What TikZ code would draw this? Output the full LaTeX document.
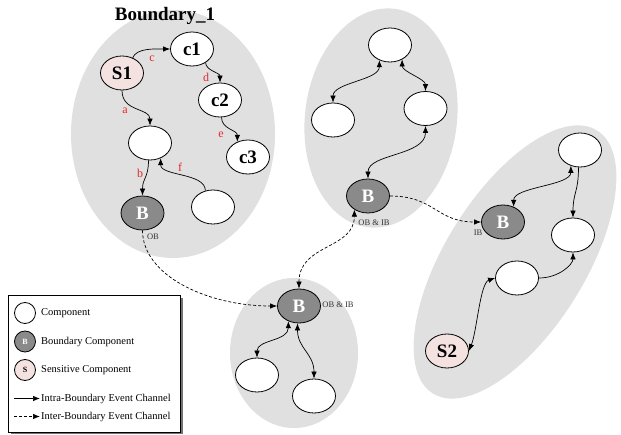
\documentclass[tikz,border=0pt]{standalone}
\usepackage{fontspec}
\setmainfont{Liberation Serif}
\usetikzlibrary{shapes.geometric,arrows.meta}
\definecolor{bndfill}{HTML}{E0E0E0}
\definecolor{bcompfill}{HTML}{8A8A8A}
\definecolor{sensfill}{HTML}{F3E2DF}
\definecolor{lblred}{HTML}{E8262A}
\definecolor{tagtext}{HTML}{333333}
\begin{document}
\begin{tikzpicture}[x=1pt,y=-1pt,
  comp/.style={ellipse,draw,line width=0.8pt,fill=white,minimum width=43pt,minimum height=34pt,inner sep=0pt,font=\fontsize{19}{19}\selectfont\bfseries},
  bcomp/.style={comp,fill=bcompfill,text=white},
  scomp/.style={comp,fill=sensfill},
  bound/.style={fill=bndfill,draw=none},
  ch/.style={line width=0.7pt,-{Latex[length=7pt,width=5.5pt]}},
  bich/.style={line width=0.7pt,{Latex[length=7pt,width=5.5pt]}-{Latex[length=7pt,width=5.5pt]}},
  xch/.style={ch,dash pattern=on 3pt off 2pt},
  bixch/.style={bich,dash pattern=on 3pt off 2pt},
  elbl/.style={text=lblred,font=\fontsize{12}{12}\selectfont,inner sep=0pt},
  tag/.style={text=tagtext,font=\fontsize{8.5}{8.5}\selectfont,inner sep=0pt},
  lgtext/.style={font=\fontsize{10.5}{10.5}\selectfont,anchor=west,inner sep=0pt},
  lgcirc/.style={circle,draw,line width=0.8pt,minimum size=21pt,inner sep=0pt,font=\fontsize{8}{8}\selectfont\bfseries}
]
\useasboundingbox (0,0) rectangle (621,435);
\fill[white] (0,0) rectangle (621,435);

% boundaries
\fill[bound] (173,134) ellipse [x radius=102pt, y radius=124pt];
\fill[bound] (381,118) ellipse [x radius=76pt, y radius=110pt, rotate=-7];
\fill[bound] (515,262) ellipse [x radius=155pt, y radius=70pt, rotate=58];
\fill[bound] (294,353) ellipse [x radius=64pt, y radius=75pt];

\node[font=\fontsize{19}{19}\selectfont\bfseries] (title) at (165,16) {Boundary\_1};

% boundary 1
\node[scomp] (s1) at (122,73) {S1};
\node[comp] (c1) at (192,49) {c1};
\node[comp] (c2) at (220,100) {c2};
\node[comp] (c3) at (248,157) {c3};
\node[comp] (m1) at (150,143) {};
\node[comp] (r1) at (213,207) {};
\node[bcomp] (b1) at (142.5,213) {B};
\node[tag] (ob1) at (153,237) {OB};

\draw[ch] (s1.55) .. controls +(4,-10) and +(-15,0) .. (c1.west);
\draw[ch] (c1.-45) .. controls +(0,8) and +(0,-10) .. (c2.north);
\draw[ch] (s1.south) .. controls +(0,22) and +(0,-18) .. (m1.north);
\draw[ch] (c2.-85) .. controls +(0,12) and +(0,-12) .. (c3.125);
\draw[ch] (m1.-95) .. controls +(0,18) and +(0,-18) .. (b1.north);
\draw[ch] (r1.115) .. controls +(0,-18) and +(0,18) .. (m1.-55);

\node[elbl] (la) at (125,111) {a};
\node[elbl] (lb) at (140,173) {b};
\node[elbl] (lc) at (152,59) {c};
\node[elbl] (ld) at (206,77) {d};
\node[elbl] (le) at (221,135) {e};
\node[elbl] (lf) at (180,167) {f};

% boundary 2
\node[comp] (t2) at (390,45) {};
\node[comp] (l2) at (333,120) {};
\node[comp] (r2) at (425.5,108.5) {};
\node[bcomp] (b2) at (368,196) {B};
\node[tag] (obib2) at (374,223) {OB \& IB};

\draw[bich] (t2.-125) .. controls +(0,20) and +(0,-20) .. (l2.north);
\draw[bich] (t2.-50) .. controls +(0,12) and +(0,-12) .. (r2.north);
\draw[bich] (r2.south) .. controls +(0,30) and +(0,-25) .. (b2.north);

% boundary 3
\node[comp] (t3) at (580,150) {};
\node[bcomp] (b3) at (503,222) {B};
\node[tag] (ib3) at (478,233) {IB};
\node[comp] (r3) at (573,235) {};
\node[comp] (m3) at (517,278) {};
\node[scomp] (s2) at (447,351) {S2};

\draw[bich] (t3.-120) .. controls +(0,20) and +(0,-20) .. (b3.55);
\draw[ch] (t3.-95) .. controls +(0,25) and +(0,-25) .. (r3.north);
\draw[ch] (m3.east) .. controls +(20,0) and +(0,12) .. (r3.south);
\draw[bich] (m3.west) .. controls +(-15,5) and +(8,-20) .. (s2.east);

% boundary 4
\node[bcomp] (b4) at (299,306) {B};
\node[tag] (obib4) at (338,305) {OB \& IB};
\node[comp] (l4) at (257,375) {};
\node[comp] (r4) at (314,396) {};

\draw[bich] (b4.-125) .. controls +(0,20) and +(0,-18) .. (l4.north);
\draw[bich] (b4.-95) .. controls +(0,25) and +(0,-25) .. (r4.north);

% inter-boundary channels
\draw[xch] (b1.south) .. controls +(0,45) and +(-70,0) .. (b4.west);
\draw[bixch] (b4.north) .. controls +(0,-45) and +(0,40) .. (b2.-135);
\draw[xch] (b2.east) .. controls +(45,0) and +(-45,0) .. (b3.west);

% legend
\fill[black!55] (11,298) rectangle (183,434);
\draw[line width=0.7pt,fill=white] (8,295) rectangle (180,432);
\node[lgcirc,fill=white] (lg1) at (25,313) {};
\node[lgtext] (lt1) at (41,313) {Component};
\node[lgcirc,fill=bcompfill,text=white] (lg2) at (25,341.5) {B};
\node[lgtext] (lt2) at (41,341.5) {Boundary Component};
\node[lgcirc,fill=sensfill] (lg3) at (25,370) {S};
\node[lgtext] (lt3) at (41,370) {Sensitive Component};
\coordinate (la1) at (14,398.5);
\coordinate (la2) at (40,398.5);
\draw[ch] (la1) -- (la2);
\node[lgtext] (lt4) at (41,398.5) {Intra-Boundary Event Channel};
\coordinate (lb1) at (14,416.5);
\coordinate (lb2) at (40,416.5);
\draw[xch] (lb1) -- (lb2);
\node[lgtext] (lt5) at (41,416.5) {Inter-Boundary Event Channel};
\end{tikzpicture}
\end{document}
